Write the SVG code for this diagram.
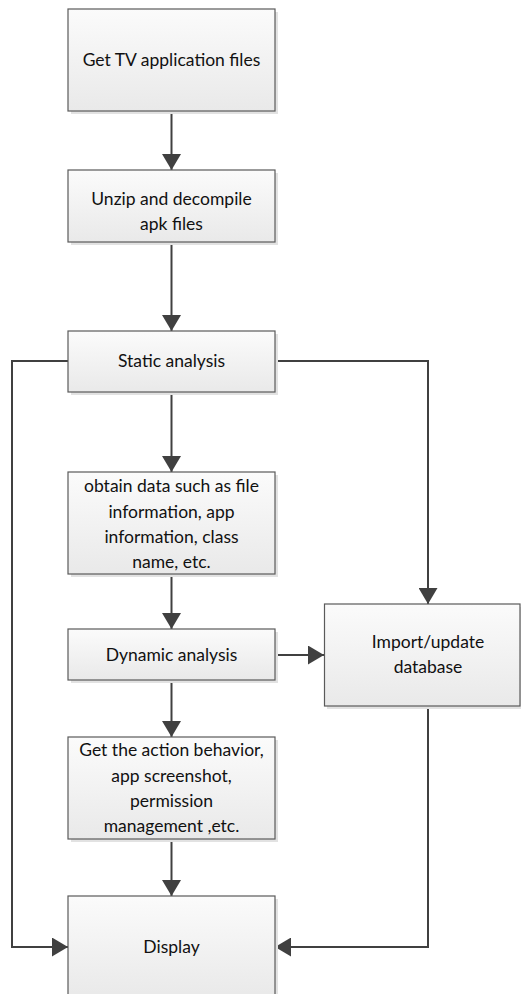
<svg xmlns="http://www.w3.org/2000/svg" width="521" height="994" viewBox="0 0 521 994">
  <defs>
    <linearGradient id="boxFill" x1="0" y1="0" x2="0" y2="1">
      <stop offset="0" stop-color="#fbfbfb"/>
      <stop offset="1" stop-color="#e9e9e9"/>
    </linearGradient>
    <marker id="arrow" viewBox="0 0 16 19" markerWidth="16" markerHeight="19" refX="16" refY="9.5" orient="auto" markerUnits="userSpaceOnUse">
      <path d="M0,0 L16,9.5 L0,19 Z" fill="#404040"/>
    </marker>
    <style>
      .shadow { fill: #e2e2e2; }
      .box { fill: url(#boxFill); stroke: #5a5a5a; stroke-width: 1.2; }
      .label { font-family: Lato, "Liberation Sans", sans-serif; font-size: 17.5px; fill: #111; text-anchor: middle; }
      .edge { fill: none; stroke: #404040; stroke-width: 2; marker-end: url(#arrow); }
    </style>
  </defs>
  <rect width="521" height="994" fill="#ffffff"/>

  <g id="connectors">
    <path class="edge" d="M171.5,111 V170"/>
    <path class="edge" d="M171.5,242 V331"/>
    <path class="edge" d="M171.5,392 V472"/>
    <path class="edge" d="M171.5,574 V629"/>
    <path class="edge" d="M171.5,680 V737"/>
    <path class="edge" d="M171.5,839 V896"/>
    <path class="edge" d="M275,655 H324"/>
    <path class="edge" d="M275,361 H428 V604"/>
    <path class="edge" d="M68,361 H12 V947 H68"/>
    <path class="edge" d="M428,706 V947 H275"/>
  </g>

  <g id="node-get-files">
    <rect class="shadow" x="71" y="12" width="207" height="102"/>
    <rect class="box" x="68" y="9" width="207" height="102"/>
    <text class="label" x="171.5" y="66">Get TV application files</text>
  </g>

  <g id="node-unzip">
    <rect class="shadow" x="71" y="173" width="207" height="72"/>
    <rect class="box" x="68" y="170" width="207" height="72"/>
    <text class="label" x="171.5" y="205">Unzip and decompile</text>
    <text class="label" x="171.5" y="230">apk files</text>
  </g>

  <g id="node-static">
    <rect class="shadow" x="71" y="334" width="207" height="61"/>
    <rect class="box" x="68" y="331" width="207" height="61"/>
    <text class="label" x="171.5" y="367">Static analysis</text>
  </g>

  <g id="node-obtain-data">
    <rect class="shadow" x="71" y="475" width="207" height="102"/>
    <rect class="box" x="68" y="472" width="207" height="102"/>
    <text class="label" x="171.5" y="492">obtain data such as file</text>
    <text class="label" x="171.5" y="518">information, app</text>
    <text class="label" x="171.5" y="543">information, class</text>
    <text class="label" x="171.5" y="568">name, etc.</text>
  </g>

  <g id="node-dynamic">
    <rect class="shadow" x="71" y="632" width="207" height="51"/>
    <rect class="box" x="68" y="629" width="207" height="51"/>
    <text class="label" x="171.5" y="661">Dynamic analysis</text>
  </g>

  <g id="node-database">
    <rect class="shadow" x="327" y="607" width="196" height="102"/>
    <rect class="box" x="324.5" y="604" width="195.5" height="102"/>
    <text class="label" x="428" y="648">Import/update</text>
    <text class="label" x="428" y="673">database</text>
  </g>

  <g id="node-behavior">
    <rect class="shadow" x="71" y="740" width="207" height="102"/>
    <rect class="box" x="68" y="737" width="207" height="102"/>
    <text class="label" x="171.5" y="756">Get the action behavior,</text>
    <text class="label" x="171.5" y="782">app screenshot,</text>
    <text class="label" x="171.5" y="807">permission</text>
    <text class="label" x="171.5" y="832">management ,etc.</text>
  </g>

  <g id="node-display">
    <rect class="shadow" x="71" y="899" width="207" height="102"/>
    <rect class="box" x="68" y="896" width="207" height="102"/>
    <text class="label" x="171.5" y="953">Display</text>
  </g>
</svg>
